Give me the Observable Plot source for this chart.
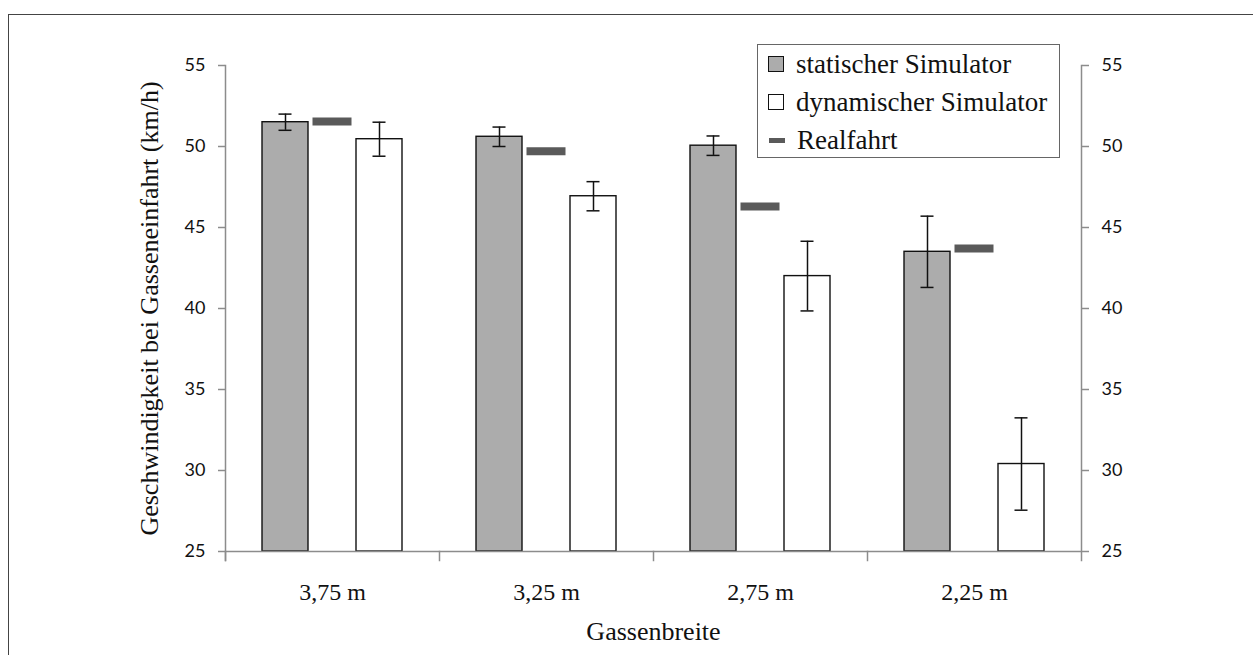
<!DOCTYPE html>
<html>
<head>
<meta charset="utf-8">
<script src="https://cdn.jsdelivr.net/npm/d3@7"></script>
<script src="https://cdn.jsdelivr.net/npm/@observablehq/plot@0.6"></script>
<style>
  html, body { margin: 0; padding: 0; background: #fff; overflow: hidden; }
  #wrap { position: relative; width: 1253px; height: 655px; }
  #border { position: absolute; left: 8px; top: 14px; width: 1300px; height: 700px; border: 1.5px solid #444; box-sizing: border-box; }
  #chart { position: absolute; left: 0; top: 0; }
  #legend { position: absolute; left: 757px; top: 44px; width: 303px; height: 114px; border: 1.5px solid #666; box-sizing: border-box; background: #fff;
            font-family: "Liberation Serif", serif; font-size: 27px; color: #111; }
  .item { position: absolute; left: 10px; height: 30px; display: flex; align-items: center; }
  .sw { width: 14px; height: 14px; border: 1.5px solid #111; margin-right: 12px; box-sizing: content-box; }
  .sw.line { border: none; height: 5px; width: 16px; margin-left: 1px; }
</style>
</head>
<body>
<div id="wrap">
  <div id="border"></div>
  <div id="chart"></div>
  <div id="legend"></div>
</div>
<script>
// ---- data ----
const categories = ["3,75 m", "3,25 m", "2,75 m", "2,25 m"];
const seriesKeys = ["statischer Simulator", "Realfahrt", "dynamischer Simulator"];
const statischValues = [51.5, 50.6, 50.05, 43.5];
const statischErrors = [0.5, 0.6, 0.6, 2.2];
const dynamischValues = [50.45, 46.93, 42.0, 30.4];
const dynamischErrors = [1.05, 0.9, 2.15, 2.85];
const realfahrtValues = [51.55, 49.7, 46.3, 43.7];
const yTicks = [25, 30, 35, 40, 45, 50, 55];
const yLabel = "Geschwindigkeit bei Gasseneinfahrt (km/h)";
const xLabel = "Gassenbreite";

// ---- styles ----
const colors = {"statischer Simulator": "#acacac", "dynamischer Simulator": "#ffffff", "Realfahrt": "#5a5a5a"};
const axisGray = "#8c8c8c";
const W = 1253, H = 655;
const mL = 225, mR = 172, mT = 65, mB = 104;
const plotH = H - mT - mB;

const bars = [];
categories.forEach((c, i) => {
  bars.push({cat: c, series: "statischer Simulator", value: statischValues[i], err: statischErrors[i]});
  bars.push({cat: c, series: "dynamischer Simulator", value: dynamischValues[i], err: dynamischErrors[i]});
});
const real = categories.map((c, i) => ({cat: c, series: "Realfahrt", value: realfahrtValues[i]}));

const serif = "Liberation Serif, serif";
const sans = "Lato, Open Sans, sans-serif";

const chart = Plot.plot({
  width: W, height: H,
  marginLeft: mL, marginRight: mR, marginTop: mT, marginBottom: mB,
  style: {background: "transparent"},
  fx: {domain: categories, padding: 0, axis: null},
  x: {domain: seriesKeys, paddingInner: 0.0316, paddingOuter: 0.768, axis: null},
  y: {domain: [25, 55], axis: null},
  marks: [
    Plot.barY(bars, {fx: "cat", x: "series", y1: 25, y2: "value", fill: d => colors[d.series], stroke: "#111", strokeWidth: 1.4}),
    Plot.tickY(real, {fx: "cat", x: "series", y: "value", stroke: colors["Realfahrt"], strokeWidth: 8, insetLeft: 3.5, insetRight: 3.5}),
    Plot.ruleX(bars, {fx: "cat", x: "series", y1: d => d.value - d.err, y2: d => d.value + d.err, stroke: "#111", strokeWidth: 1.5}),
    Plot.tickY(bars, {fx: "cat", x: "series", y: d => d.value + d.err, stroke: "#111", strokeWidth: 1.5, insetLeft: 16.5, insetRight: 16.5}),
    Plot.tickY(bars, {fx: "cat", x: "series", y: d => d.value - d.err, stroke: "#111", strokeWidth: 1.5, insetLeft: 16.5, insetRight: 16.5}),
    Plot.ruleY([25], {stroke: axisGray, strokeWidth: 1.5}),
    Plot.frame({anchor: "left", facetAnchor: "left", stroke: axisGray, strokeWidth: 1.5, insetBottom: -9}),
    Plot.frame({anchor: "right", facetAnchor: "right", stroke: axisGray, strokeWidth: 1.5, insetBottom: -9}),
    Plot.frame({anchor: "left", stroke: axisGray, strokeWidth: 1.5, insetTop: plotH, insetBottom: -9}),
    Plot.axisY({anchor: "left", ticks: yTicks, tickSize: 7, tickPadding: 13, stroke: axisGray, strokeWidth: 1.5, fill: "#111", fontFamily: sans, fontSize: 18, label: null}),
    Plot.axisY({anchor: "right", ticks: yTicks, tickSize: 7, tickPadding: 13, stroke: axisGray, strokeWidth: 1.5, fill: "#111", fontFamily: sans, fontSize: 18, label: null}),
    Plot.axisY({anchor: "left", ticks: [], label: yLabel, labelAnchor: "center", labelOffset: 86, labelArrow: "none", fill: "#111", fontFamily: serif, fontSize: 26}),
    Plot.axisFx({anchor: "bottom", tickSize: 0, tickPadding: 31, fill: "#111", fontFamily: serif, fontSize: 24, label: null}),
    Plot.axisFx({anchor: "bottom", ticks: [], label: xLabel, labelAnchor: "center", labelOffset: 88, labelArrow: "none", fill: "#111", fontFamily: serif, fontSize: 26})
  ]
});
document.getElementById("chart").appendChild(chart);

// ---- legend ----
const legend = document.getElementById("legend");
const legendItems = [
  {label: "statischer Simulator", kind: "box"},
  {label: "dynamischer Simulator", kind: "box"},
  {label: "Realfahrt", kind: "line"}
];
legendItems.forEach((it, i) => {
  const row = document.createElement("div");
  row.className = "item";
  row.style.top = (4 + i * 38) + "px";
  const sw = document.createElement("div");
  sw.className = "sw" + (it.kind === "line" ? " line" : "");
  sw.style.background = colors[it.label];
  const t = document.createElement("span");
  t.textContent = it.label;
  row.appendChild(sw);
  row.appendChild(t);
  legend.appendChild(row);
});
</script>
</body>
</html>
